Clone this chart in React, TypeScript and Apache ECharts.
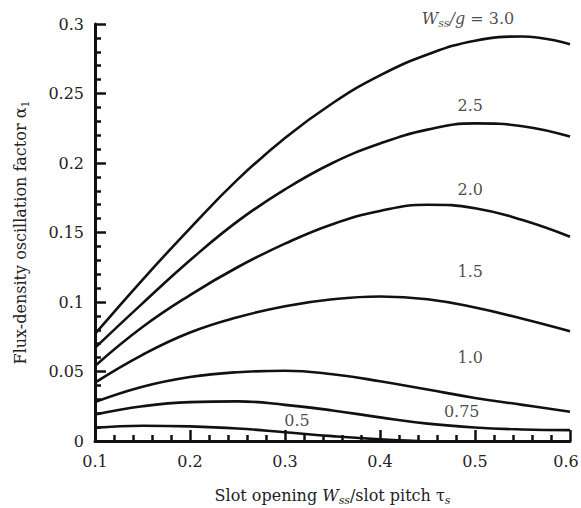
import React, { useEffect, useRef } from "react";
import * as echarts from "echarts";

const xs = [0.1, 0.15, 0.2, 0.25, 0.3, 0.35, 0.4, 0.45, 0.5, 0.55, 0.6];
const c30 = [0.077, 0.116, 0.153, 0.188, 0.218, 0.243, 0.263, 0.278, 0.288, 0.291, 0.2855];
const c25 = [0.067, 0.099, 0.13, 0.158, 0.181, 0.2, 0.214, 0.224, 0.2285, 0.2265, 0.219];
const c20 = [0.054, 0.082, 0.105, 0.125, 0.142, 0.156, 0.1655, 0.170, 0.1675, 0.159, 0.147];
const c15 = [0.042, 0.062, 0.078, 0.089, 0.097, 0.102, 0.104, 0.102, 0.096, 0.088, 0.079];
const c10 = [0.028, 0.039, 0.046, 0.0495, 0.0505, 0.048, 0.043, 0.037, 0.031, 0.026, 0.021];
const c075 = [0.019, 0.025, 0.028, 0.0285, 0.026, 0.022, 0.017, 0.0125, 0.0097, 0.0083, 0.0078];
const xs05 = [0.1, 0.15, 0.2, 0.25, 0.3, 0.35, 0.4, 0.44];
const c05 = [0.0095, 0.011, 0.0105, 0.009, 0.0063, 0.0035, 0.0012, 0.0];

const labelNames = ["3.0", "2.5", "2.0", "1.5", "1.0", "0.75", "0.5"];
const labelX = [0.4926, 0.495, 0.495, 0.495, 0.495, 0.486, 0.3126];
const labelY = [0.304, 0.2417, 0.1806, 0.1216, 0.0604, 0.0209, 0.0151];

const FONT = "DejaVu Serif";
const FS = 16;
const SUB = 11;

export default function App() {
  const ref = useRef<HTMLDivElement>(null);
  useEffect(() => {
    if (!ref.current) return;
    const chart = echarts.init(ref.current, undefined, { renderer: "svg" });
    const curves = [c30, c25, c20, c15, c10, c075];
    const series: any[] = curves.map((c) => ({
      type: "line",
      data: xs.map((x, i) => [x, c[i]]),
      smooth: 0.45,
      symbol: "none",
      lineStyle: { color: "#111", width: 2.6 },
    }));
    series.push({
      type: "line",
      data: xs05.map((x, i) => [x, c05[i]]),
      smooth: 0.45,
      symbol: "none",
      lineStyle: { color: "#111", width: 2.6 },
    });
    series.push({
      type: "scatter",
      clip: false,
      symbolSize: 0,
      silent: true,
      data: labelNames.map((n, i) => ({
        value: [labelX[i], labelY[i]],
        name: n,
      })),
      label: {
        show: true,
        position: "inside",
        fontFamily: FONT,
        fontSize: FS,
        color: "#1a1a1a",
        formatter: (p: any) =>
          p.dataIndex === 0
            ? "{i|W}{s|ss}{i|/g}{n| = " + p.name + "}"
            : p.name,
        rich: {
          n: { fontFamily: FONT, fontSize: FS, lineHeight: 22, color: "#1a1a1a" },
          i: { fontFamily: FONT, fontSize: FS, fontStyle: "italic", lineHeight: 22, color: "#1a1a1a" },
          s: { fontFamily: FONT, fontSize: SUB, fontStyle: "italic", lineHeight: 12, verticalAlign: "bottom", color: "#1a1a1a" },
        },
      },
    });
    chart.setOption({
      animation: false,
      backgroundColor: "#fff",
      grid: { left: 95, right: 11, top: 24, bottom: 67, containLabel: false, outerBoundsMode: "none" },
      xAxis: {
        type: "value",
        min: 0.1,
        max: 0.6,
        interval: 0.1,
        name: "{n|Slot opening }{i|W}{s|ss}{n|/slot pitch τ}{s|s}",
        nameLocation: "middle",
        nameGap: 43,
        nameMoveOverlap: false,
        nameTextStyle: {
          fontFamily: FONT,
          fontSize: FS,
          color: "#222",
          rich: {
            n: { fontFamily: FONT, fontSize: FS, lineHeight: 22, color: "#222" },
            i: { fontFamily: FONT, fontSize: FS, fontStyle: "italic", lineHeight: 22, color: "#222" },
            s: { fontFamily: FONT, fontSize: SUB, fontStyle: "italic", lineHeight: 12, verticalAlign: "bottom", color: "#222" },
          },
        },
        axisLine: { show: true, onZero: false, lineStyle: { color: "#111", width: 3 } },
        axisTick: { show: true, inside: true, length: 11, lineStyle: { color: "#111", width: 2.5 } },
        minorTick: { show: true, splitNumber: 5, length: 6, lineStyle: { color: "#111", width: 2.5 } },
        axisLabel: {
          fontFamily: FONT,
          fontSize: FS,
          color: "#222",
          margin: 12,
          formatter: (v: number) => (v >= 0.599 ? "{r|" + v + "}" : String(v)),
          rich: { r: { fontFamily: FONT, fontSize: FS, color: "#222", padding: [0, 8, 0, 0] } },
        },
        splitLine: { show: false },
      },
      yAxis: {
        type: "value",
        min: 0,
        max: 0.3,
        interval: 0.05,
        name: "{n|Flux-density oscillation factor α}{s|1}",
        nameLocation: "middle",
        nameGap: 64,
        nameMoveOverlap: false,
        nameTextStyle: {
          fontFamily: FONT,
          fontSize: FS,
          color: "#222",
          rich: {
            n: { fontFamily: FONT, fontSize: FS, lineHeight: 22, color: "#222" },
            s: { fontFamily: FONT, fontSize: SUB, lineHeight: 12, verticalAlign: "bottom", color: "#222" },
          },
        },
        axisLine: { show: true, onZero: false, lineStyle: { color: "#111", width: 3 } },
        axisTick: { show: true, inside: true, length: 11, lineStyle: { color: "#111", width: 2.5 } },
        minorTick: { show: true, splitNumber: 5, length: 6, lineStyle: { color: "#111", width: 2.5 } },
        axisLabel: { fontFamily: FONT, fontSize: FS, color: "#222", margin: 11 },
        splitLine: { show: false },
      },
      series,
    });
    return () => chart.dispose();
  }, []);
  return <div ref={ref} style={{ width: 581, height: 508, position: "absolute", left: 0, top: 0 }} />;
}
